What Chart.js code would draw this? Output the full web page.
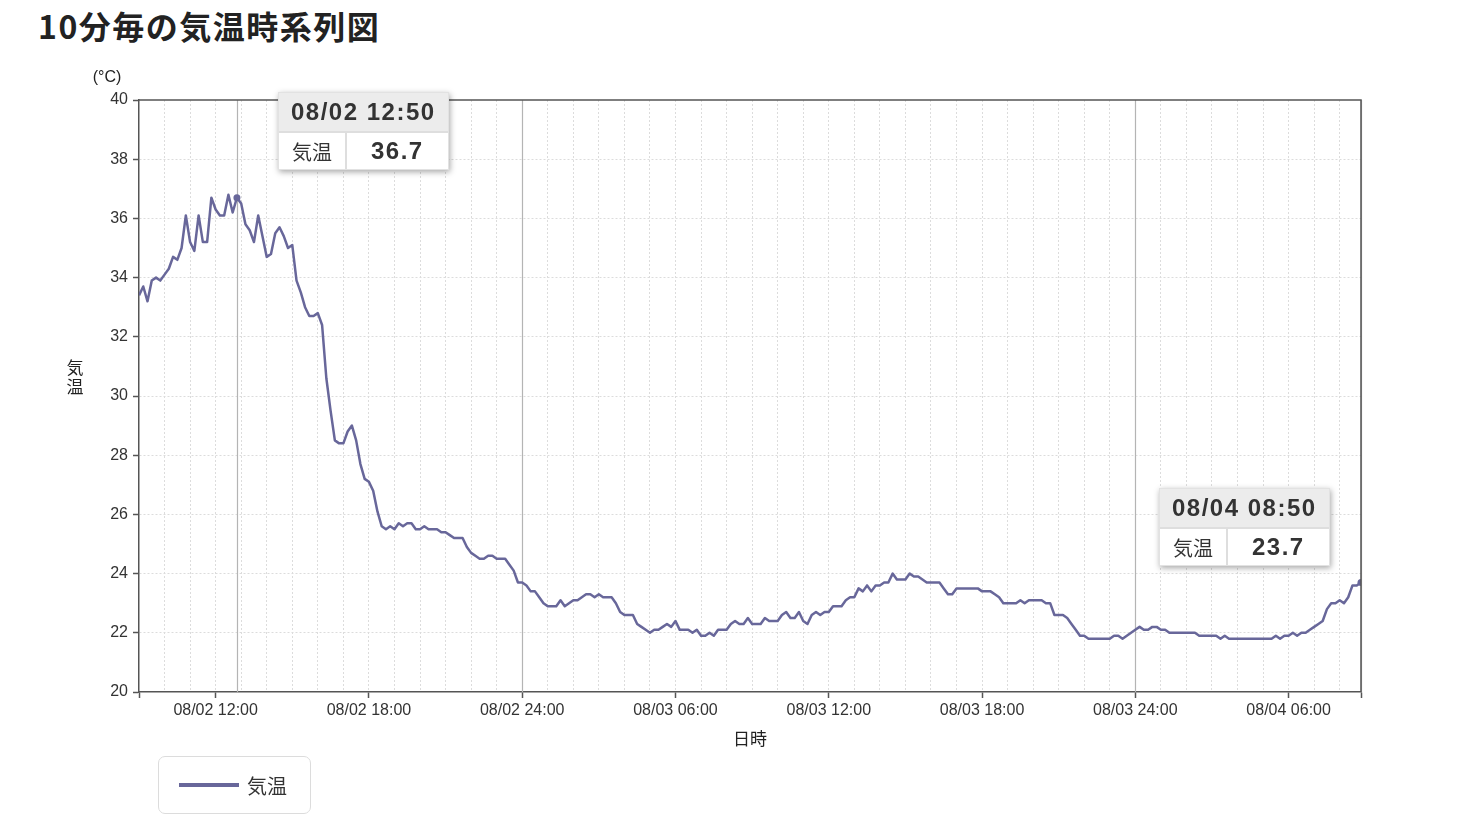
<!DOCTYPE html>
<html lang="ja">
<head>
<meta charset="utf-8">
<title>10分毎の気温時系列図</title>
<script src="https://cdn.jsdelivr.net/npm/chart.js@4.4.1/dist/chart.umd.min.js"></script>
<style>
  html, body { margin: 0; padding: 0; background: #fff; }
  #wrap { position: relative; width: 1475px; height: 830px; overflow: hidden; }
  #chart { position: absolute; left: 0; top: 0; }
  h1 {
    position: absolute; left: 38px; top: 2px; margin: 0;
    font: bold 32px "Noto Sans CJK JP", sans-serif; letter-spacing: 1.5px; color: #222;
  }
  #legend {
    position: absolute; left: 158px; top: 756px; width: 153px; height: 58px;
    border: 1.5px solid #dcdcdc; border-radius: 7px; box-sizing: border-box;
    display: flex; align-items: center; padding-left: 20px;
    font: 20px "Noto Sans CJK JP", sans-serif; color: #333;
  }
  #legend .sw { display: inline-block; width: 60px; height: 4px; margin-right: 8px; }
  .tip {
    position: absolute; width: max-content; background: #fff; border: 1px solid #e2e2e2;
    box-shadow: 1px 2px 6px rgba(0,0,0,0.35); color: #333;
  }
  .tip .hd {
    background: #ececec; padding: 4px 12px; border-bottom: 2px solid #dedede;
    font: bold 24px "Liberation Sans", sans-serif; letter-spacing: 1.5px; line-height: 30px;
  }
  .tip .row { display: flex; height: 36px; align-items: stretch; }
  .tip .k {
    display: flex; align-items: center; padding: 0 13px; border-right: 2px solid #dedede;
    font: 20px "Noto Sans CJK JP", sans-serif; white-space: nowrap;
  }
  .tip .v {
    flex: 1; display: flex; align-items: center; justify-content: center;
    font: bold 24px "Liberation Sans", sans-serif; letter-spacing: 1.5px; padding: 0 12px;
  }
</style>
</head>
<body>
<div id="wrap">
  <h1>10分毎の気温時系列図</h1>
  <canvas id="chart" width="1475" height="830"></canvas>
  <div id="legend"></div>
</div>
<script>
// 観測の開始時刻 (08/02 09:00) と間隔
const baseMonth = 8;
const baseDay = 2;
const startHour = 9;
const stepMinutes = 10;

const seriesName = '気温';
const yUnit = '(°C)';
const xTitle = '日時';

// 10分毎の気温 (08/02 09:00 〜 08/04 08:50)
const temps = [
  33.4, 33.7, 33.2, 33.9, 34.0, 33.9, 34.1, 34.3, 34.7, 34.6,
  35.0, 36.1, 35.2, 34.9, 36.1, 35.2, 35.2, 36.7, 36.3, 36.1,
  36.1, 36.8, 36.2, 36.7, 36.5, 35.8, 35.6, 35.2, 36.1, 35.4,
  34.7, 34.8, 35.5, 35.7, 35.4, 35.0, 35.1, 33.9, 33.5, 33.0,
  32.7, 32.7, 32.8, 32.4, 30.6, 29.5, 28.5, 28.4, 28.4, 28.8,
  29.0, 28.5, 27.7, 27.2, 27.1, 26.8, 26.1, 25.6, 25.5, 25.6,
  25.5, 25.7, 25.6, 25.7, 25.7, 25.5, 25.5, 25.6, 25.5, 25.5,
  25.5, 25.4, 25.4, 25.3, 25.2, 25.2, 25.2, 24.9, 24.7, 24.6,
  24.5, 24.5, 24.6, 24.6, 24.5, 24.5, 24.5, 24.3, 24.1, 23.7,
  23.7, 23.6, 23.4, 23.4, 23.2, 23.0, 22.9, 22.9, 22.9, 23.1,
  22.9, 23.0, 23.1, 23.1, 23.2, 23.3, 23.3, 23.2, 23.3, 23.2,
  23.2, 23.2, 23.0, 22.7, 22.6, 22.6, 22.6, 22.3, 22.2, 22.1,
  22.0, 22.1, 22.1, 22.2, 22.3, 22.2, 22.4, 22.1, 22.1, 22.1,
  22.0, 22.1, 21.9, 21.9, 22.0, 21.9, 22.1, 22.1, 22.1, 22.3,
  22.4, 22.3, 22.3, 22.5, 22.3, 22.3, 22.3, 22.5, 22.4, 22.4,
  22.4, 22.6, 22.7, 22.5, 22.5, 22.7, 22.4, 22.3, 22.6, 22.7,
  22.6, 22.7, 22.7, 22.9, 22.9, 22.9, 23.1, 23.2, 23.2, 23.5,
  23.4, 23.6, 23.4, 23.6, 23.6, 23.7, 23.7, 24.0, 23.8, 23.8,
  23.8, 24.0, 23.9, 23.9, 23.8, 23.7, 23.7, 23.7, 23.7, 23.5,
  23.3, 23.3, 23.5, 23.5, 23.5, 23.5, 23.5, 23.5, 23.4, 23.4,
  23.4, 23.3, 23.2, 23.0, 23.0, 23.0, 23.0, 23.1, 23.0, 23.1,
  23.1, 23.1, 23.1, 23.0, 23.0, 22.6, 22.6, 22.6, 22.5, 22.3,
  22.1, 21.9, 21.9, 21.8, 21.8, 21.8, 21.8, 21.8, 21.8, 21.9,
  21.9, 21.8, 21.9, 22.0, 22.1, 22.2, 22.1, 22.1, 22.2, 22.2,
  22.1, 22.1, 22.0, 22.0, 22.0, 22.0, 22.0, 22.0, 22.0, 21.9,
  21.9, 21.9, 21.9, 21.9, 21.8, 21.9, 21.8, 21.8, 21.8, 21.8,
  21.8, 21.8, 21.8, 21.8, 21.8, 21.8, 21.8, 21.9, 21.8, 21.9,
  21.9, 22.0, 21.9, 22.0, 22.0, 22.1, 22.2, 22.3, 22.4, 22.8,
  23.0, 23.0, 23.1, 23.0, 23.2, 23.6, 23.6, 23.7
];

// 目盛り (時刻は 08/02 00:00 からの経過時間)
const xLabelHours = [12, 18, 24, 30, 36, 42, 48, 54];
const yTicks = [20, 22, 24, 26, 28, 30, 32, 34, 36, 38, 40];
const dayLineHours = [24, 48];
// ツールチップを固定表示する点
const pinnedIndex = [23, 287];

const lineColor = '#68679a';
const axisColor = '#555';
const gridColor = '#dcdcdc';
const textFont = '"Liberation Sans", "Noto Sans CJK JP", sans-serif';

const pad2 = n => String(n).padStart(2, '0');
const hourOf = i => startHour + i * stepMinutes / 60;
const xMin = hourOf(0);
const xMax = hourOf(temps.length - 1);

// 0:00 は前日の 24:00 として表示
function fmtTime(h) {
  const total = Math.round(h * 60);
  let day = Math.floor(total / 1440);
  let m = total % 1440;
  if (m === 0) { day -= 1; m = 1440; }
  return pad2(baseMonth) + '/' + pad2(baseDay + day) + ' ' + pad2(Math.floor(m / 60)) + ':' + pad2(m % 60);
}
const isLabelled = v => xLabelHours.some(h => Math.abs(h - v) < 1e-6);
const isEdge = v => Math.abs(v - xMin) < 1e-6 || Math.abs(v - xMax) < 1e-6;

const overlay = {
  id: 'overlay',
  beforeDatasetsDraw(chart) {
    const {ctx, chartArea: a, scales: {x}} = chart;
    ctx.save();
    ctx.strokeStyle = '#b4b4b4';
    ctx.lineWidth = 1.2;
    dayLineHours.concat(pinnedIndex.map(hourOf)).forEach(h => {
      const px = Math.round(x.getPixelForValue(h)) + 0.5;
      ctx.beginPath();
      ctx.moveTo(px, a.top);
      ctx.lineTo(px, a.bottom);
      ctx.stroke();
    });
    ctx.restore();
  },
  afterDraw(chart) {
    const {ctx, chartArea: a} = chart;
    ctx.save();
    // 上と右の枠線
    ctx.strokeStyle = axisColor;
    ctx.lineWidth = 1.5;
    ctx.beginPath();
    ctx.moveTo(a.left, a.top);
    ctx.lineTo(a.right, a.top);
    ctx.lineTo(a.right, a.bottom);
    ctx.stroke();
    // 単位と縦書きの軸名
    ctx.fillStyle = '#222';
    ctx.textAlign = 'center';
    ctx.textBaseline = 'middle';
    ctx.font = '16px ' + textFont;
    ctx.fillText(yUnit, a.left - 32, a.top - 22);
    ctx.font = '17px ' + textFont;
    const chars = Array.from(seriesName);
    chars.forEach((c, k) => {
      ctx.fillText(c, a.left - 64, 379 + (k - (chars.length - 1) / 2) * 19);
    });
    ctx.restore();
  }
};

const chart = new Chart(document.getElementById('chart'), {
  type: 'line',
  data: {
    datasets: [{
      label: seriesName,
      data: temps.map((t, i) => ({x: hourOf(i), y: t})),
      borderColor: lineColor,
      backgroundColor: lineColor,
      borderWidth: 2.5,
      borderJoinStyle: 'round',
      pointRadius: c => pinnedIndex.includes(c.dataIndex) ? 3.5 : 0,
      pointBorderWidth: 0,
      pointBackgroundColor: lineColor,
      tension: 0
    }]
  },
  options: {
    responsive: false,
    animation: false,
    events: [],
    layout: { padding: { left: 0, top: 100, right: 114, bottom: 68 } },
    plugins: {
      legend: { display: false },
      tooltip: { enabled: false }
    },
    scales: {
      x: {
        type: 'linear',
        min: xMin,
        max: xMax,
        afterBuildTicks: s => {
          const ticks = [];
          for (let h = Math.ceil(xMin); h < xMax; h++) ticks.push({value: h});
          ticks.push({value: xMax});
          s.ticks = ticks;
        },
        afterFit: s => { s.height = 70; },
        border: { color: axisColor, width: 1.5, dash: [2, 2] },
        grid: {
          color: c => (isEdge(c.tick.value) || dayLineHours.includes(c.tick.value)) ? 'transparent' : gridColor,
          lineWidth: 1,
          tickLength: 6,
          tickWidth: 1.5,
          tickColor: c => (isLabelled(c.tick.value) || isEdge(c.tick.value)) ? axisColor : 'transparent'
        },
        ticks: {
          autoSkip: false,
          maxRotation: 0,
          padding: 3,
          color: '#333',
          font: { family: textFont, size: 16 },
          callback: v => isLabelled(v) ? fmtTime(v) : ''
        },
        title: {
          display: true,
          text: xTitle,
          color: '#222',
          font: { family: textFont, size: 17 },
          padding: { top: 0, bottom: 11 }
        }
      },
      y: {
        min: yTicks[0],
        max: yTicks[yTicks.length - 1],
        afterBuildTicks: s => { s.ticks = yTicks.map(v => ({value: v})); },
        afterFit: s => { s.width = 139; },
        border: { color: axisColor, width: 1.5, dash: [2, 2] },
        grid: {
          color: c => (c.tick.value === yTicks[0] || c.tick.value === yTicks[yTicks.length - 1]) ? 'transparent' : gridColor,
          lineWidth: 1,
          tickLength: 6,
          tickWidth: 1.5,
          tickColor: axisColor
        },
        ticks: {
          padding: 5,
          color: '#333',
          font: { family: textFont, size: 16 }
        }
      }
    }
  },
  plugins: [overlay]
});

// 凡例
const legend = document.getElementById('legend');
legend.innerHTML = '<span class="sw" style="background:' + lineColor + '"></span><span>' + seriesName + '</span>';

// 固定ツールチップ
const tipOffsets = [
  {dx: 41, dy: -106, side: 'right'},
  {dx: -31, dy: -94, side: 'left'}
];
function placeTips(ch) {
  const wrap = document.getElementById('wrap');
  pinnedIndex.forEach((idx, k) => {
    const h = hourOf(idx);
    const px = ch.scales.x.getPixelForValue(h);
    const py = ch.scales.y.getPixelForValue(temps[idx]);
    const tip = document.createElement('div');
    tip.className = 'tip';
    tip.innerHTML = '<div class="hd">' + fmtTime(h) + '</div>' +
      '<div class="row"><div class="k">' + seriesName + '</div><div class="v">' + temps[idx].toFixed(1) + '</div></div>';
    wrap.appendChild(tip);
    const o = tipOffsets[k];
    const left = o.side === 'right' ? px + o.dx : px + o.dx - tip.offsetWidth;
    tip.style.left = Math.round(left) + 'px';
    tip.style.top = Math.round(py + o.dy) + 'px';
  });
}
placeTips(chart);
</script>
</body>
</html>
